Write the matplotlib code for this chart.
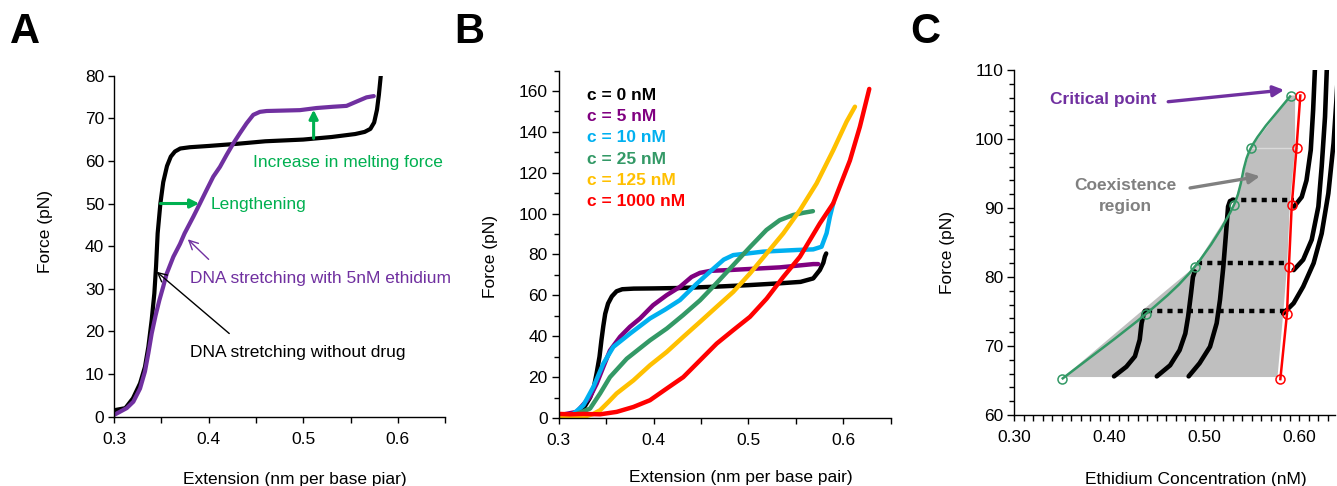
import numpy as np
import matplotlib
matplotlib.use("Agg")
import matplotlib.pyplot as plt
from matplotlib.path import Path
from matplotlib.patches import PathPatch
from matplotlib.ticker import FixedLocator, FormatStrFormatter

plt.rcParams['font.family'] = ['Liberation Sans', 'DejaVu Sans']
plt.rcParams['font.size'] = 12.5
plt.rcParams['axes.linewidth'] = 1.0

# ---------------- Panel A data: force-extension, no drug vs 5 nM ethidium
a0_x = [0.300, 0.312, 0.320, 0.3275, 0.3327, 0.3363, 0.3398, 0.3426, 0.3444, 0.3461,
        0.3490, 0.3520, 0.3560, 0.3600, 0.3644, 0.370, 0.380, 0.400, 0.430, 0.460, 0.500,
        0.530, 0.555, 0.565, 0.571, 0.575, 0.578, 0.580, 0.582]
a0_f = [1.5, 2.0, 4.3, 7.8, 11.7, 16.4, 22.7, 28.9, 35.2, 43.0,
        50.0, 55.0, 58.8, 61.0, 62.2, 62.9, 63.2, 63.5, 64.0, 64.6, 65.0,
        65.6, 66.3, 66.8, 67.5, 69.0, 72.0, 75.5, 80.0]
a5_x = [0.300, 0.3134, 0.3204, 0.3275, 0.3327, 0.3363, 0.3398, 0.3440, 0.3479, 0.3520,
        0.3556, 0.3627, 0.3697, 0.3746, 0.3838, 0.3908, 0.3979, 0.4049, 0.412, 0.419,
        0.4261, 0.4331, 0.4401, 0.4472, 0.4542, 0.4613, 0.4789, 0.4965, 0.5141, 0.5317,
        0.5458, 0.5563, 0.5669, 0.5746]
a5_f = [0.4, 2.0, 3.5, 6.6, 10.6, 14.9, 19.5, 23.8, 27.3, 30.5,
        33.5, 37.5, 40.5, 43.0, 46.9, 50.0, 53.2, 56.3, 58.6, 61.4,
        64.1, 66.5, 68.8, 70.8, 71.5, 71.7, 71.8, 71.9, 72.4, 72.7,
        72.9, 73.9, 74.9, 75.2]
a_xticks = [0.3, 0.4, 0.5, 0.6]
a_xminor = [0.35, 0.45, 0.55, 0.65]
a_yticks = [0, 10, 20, 30, 40, 50, 60, 70, 80]

# ---------------- Panel B data: force-extension at several concentrations
b_labels = ['c = 0 nM', 'c = 5 nM', 'c = 10 nM', 'c = 25 nM', 'c = 125 nM', 'c = 1000 nM']
b_colors = ['#000000', '#800080', '#00B0F0', '#339966', '#FFC000', '#FF0000']
b0_x = [0.300, 0.312, 0.320, 0.326, 0.333, 0.337, 0.340, 0.343, 0.345, 0.347,
        0.349, 0.352, 0.356, 0.361, 0.367, 0.379, 0.400, 0.4278, 0.4629, 0.500,
        0.5332, 0.555, 0.5683, 0.5753, 0.5790, 0.5806, 0.582]
b0_f = [0.8, 1.5, 3.0, 4.6, 10.0, 15.0, 22.0, 30.0, 38.0, 45.0,
        51.0, 56.0, 59.5, 62.0, 63.0, 63.3, 63.4, 63.6, 64.2, 65.0,
        65.9, 66.6, 68.3, 72.4, 76.0, 79.0, 80.5]
b5_x = [0.300, 0.319, 0.333, 0.340, 0.347, 0.354, 0.3646, 0.375, 0.3857, 0.3995,
        0.4138, 0.4279, 0.4400, 0.4489, 0.4600, 0.4805, 0.5332, 0.5683, 0.5736]
b5_f = [1.3, 3.0, 10.3, 16.8, 25.0, 33.0, 39.7, 44.6, 48.7, 55.2,
        60.1, 64.2, 69.0, 71.0, 72.0, 72.4, 73.7, 75.3, 75.3]
b10_x = [0.300, 0.3155, 0.326, 0.3365, 0.347, 0.3576, 0.3752, 0.3962, 0.4120, 0.4278,
         0.4450, 0.4629, 0.4740, 0.484, 0.5156, 0.5508, 0.5683, 0.5771, 0.5824, 0.5859,
         0.5894]
b10_f = [0.5, 2.1, 6.2, 15.2, 26.6, 34.8, 41.3, 48.7, 53.0, 57.7,
         65.5, 73.0, 77.5, 79.7, 81.4, 82.2, 82.5, 83.8, 90.4, 98.5,
         105.0]
b25_x = [0.300, 0.319, 0.333, 0.3436, 0.354, 0.3717, 0.3962, 0.414, 0.431, 0.449,
         0.466, 0.484, 0.502, 0.519, 0.533, 0.547, 0.558, 0.568]
b25_f = [0.2, 2.0, 4.6, 12.0, 20.0, 29.0, 38.0, 43.8, 50.3, 57.6,
         65.8, 74.8, 83.8, 92.0, 96.8, 99.3, 100.4, 101.2]
b125_x = [0.300, 0.326, 0.3365, 0.3436, 0.3523, 0.361, 0.3787, 0.3962, 0.4138, 0.4313,
          0.4489, 0.4665, 0.484, 0.5016, 0.5192, 0.5367, 0.5543, 0.5719, 0.5894, 0.6035,
          0.6123]
b125_f = [0.2, 0.5, 2.0, 3.8, 7.8, 12.0, 18.4, 25.8, 32.3, 39.7,
          47.0, 54.4, 61.7, 70.7, 80.5, 90.3, 101.7, 114.8, 131.0, 145.0,
          152.3]
b1000_x = [0.300, 0.312, 0.326, 0.3436, 0.3611, 0.3787, 0.3962, 0.4138, 0.4313, 0.4489,
           0.4665, 0.484, 0.5016, 0.5192, 0.5367, 0.5543, 0.5753, 0.5894, 0.607, 0.6175,
           0.6274]
b1000_f = [2.0, 1.8, 2.0, 1.8, 3.0, 5.4, 8.7, 14.4, 20.0, 28.2,
           36.4, 43.0, 49.5, 58.4, 69.0, 78.9, 95.2, 105.0, 126.0, 142.5,
           161.0]
b_xticks = [0.3, 0.4, 0.5, 0.6]
b_xminor = [0.35, 0.45, 0.55, 0.65]
b_yticks = [0, 20, 40, 60, 80, 100, 120, 140, 160]
b_yminor = [10, 30, 50, 70, 90, 110, 130, 150, 170]

# ---------------- Panel C data: phase diagram
phase_f = [65.2, 74.7, 81.5, 90.4, 98.7, 106.3]
left_x = [0.350, 0.439, 0.490, 0.531, 0.549, 0.591]
right_x = [0.580, 0.587, 0.589, 0.592, 0.597, 0.601]
region_x = [0.352, 0.455, 0.490, 0.531, 0.549, 0.591, 0.5955, 0.5955, 0.590, 0.587, 0.583, 0.577]
region_f = [65.5, 77.5, 81.5, 90.4, 98.7, 106.3, 106.3, 98.7, 90.4, 81.5, 74.7, 65.5]
tie_f = [75.0, 82.1, 91.1]
tie_x0 = [0.440, 0.492, 0.528]
tie_x1 = [0.585, 0.590, 0.594]
iso1_x = [0.405, 0.418, 0.427, 0.432, 0.434, 0.436, 0.4375, 0.441]
iso1_f = [65.6, 67.0, 68.5, 70.9, 73.3, 74.5, 75.1, 75.1]
iso2_x = [0.450, 0.464, 0.474, 0.480, 0.483, 0.486, 0.488, 0.490]
iso2_f = [65.6, 67.2, 69.4, 71.8, 74.3, 77.6, 80.0, 80.8]
iso3_x = [0.4835, 0.495, 0.506, 0.513, 0.5165, 0.520, 0.5228, 0.525, 0.527, 0.5305]
iso3_f = [65.6, 67.5, 69.9, 73.3, 76.7, 81.5, 86.3, 90.2, 91.0, 91.2]
iso4_x = [0.583, 0.594, 0.604, 0.615, 0.6235, 0.6305, 0.636, 0.639, 0.641]
iso4_f = [74.7, 76.2, 78.6, 82.0, 86.3, 92.1, 99.4, 105.6, 110.5]
iso5_x = [0.594, 0.604, 0.613, 0.620, 0.6235, 0.627, 0.629]
iso5_f = [81.0, 82.5, 85.4, 90.2, 96.0, 103.2, 110.5]
iso6_x = [0.5945, 0.6025, 0.6075, 0.612, 0.6145, 0.6165]
iso6_f = [90.2, 91.6, 94.0, 98.4, 104.2, 110.5]
c_xticks = [0.30, 0.40, 0.50, 0.60]
c_xminor = [round(0.30 + 0.01 * i, 2) for i in range(34)]
c_yticks = [60, 70, 80, 90, 100, 110]
c_yminor = list(range(60, 111, 2))

PURPLE = '#7030A0'
GREEN_TXT = '#00B050'
PHASE_GREEN = '#339966'
GRAY_TXT = '#808080'

fig = plt.figure(figsize=(13.37, 4.86), dpi=100)


def style_axes(ax):
    for side in ('top', 'right'):
        ax.spines[side].set_visible(False)
    ax.tick_params(which='both', direction='out', width=1.0, labelsize=12.5)


def smooth_path(xs, ys, sx, sy):
    """Catmull-Rom style cubic Bezier path through the given points."""
    P = np.column_stack([np.asarray(xs) * sx, np.asarray(ys) * sy])
    n = len(P)
    verts = [P[0]]
    codes = [Path.MOVETO]
    for i in range(n - 1):
        p0 = P[i - 1] if i > 0 else P[i]
        p1 = P[i]
        p2 = P[i + 1]
        p3 = P[i + 2] if i + 2 < n else P[i + 1]
        c1 = p1 + (p2 - p0) / 6.0
        c2 = p2 - (p3 - p1) / 6.0
        verts += [c1, c2, p2]
        codes += [Path.CURVE4] * 3
    V = np.array(verts)
    V[:, 0] /= sx
    V[:, 1] /= sy
    return Path(V, codes)


line_kw = dict(solid_capstyle='round', solid_joinstyle='round')

# ================= Panel A
axA = fig.add_axes([0.0853, 0.1427, 0.2476, 0.7017])
style_axes(axA)
axA.plot(a0_x, a0_f, color='black', lw=3.0, **line_kw)
axA.plot(a5_x, a5_f, color=PURPLE, lw=3.0, **line_kw)
axA.set_xlim(0.3, 0.65)
axA.set_ylim(0, 80)
axA.xaxis.set_major_locator(FixedLocator(a_xticks))
axA.xaxis.set_minor_locator(FixedLocator(a_xminor))
axA.xaxis.set_major_formatter(FormatStrFormatter('%.1f'))
axA.yaxis.set_major_locator(FixedLocator(a_yticks))
axA.tick_params(axis='x', which='both', length=4, pad=7)
axA.tick_params(axis='y', length=4, pad=3)
axA.set_xlabel('Extension (nm per base piar)')
axA.xaxis.set_label_coords(0.547, -0.162)
axA.set_ylabel('Force (pN)')
axA.yaxis.label.set_va('center')
axA.yaxis.set_label_coords(-0.2085, 0.5425)

# melting-force increase
axA.annotate('', xy=(0.511, 72.0), xytext=(0.511, 65.3),
             arrowprops=dict(arrowstyle='-|>', color=GREEN_TXT, lw=2.2,
                             mutation_scale=13, shrinkA=0, shrinkB=0))
axA.text(0.447, 58.6, 'Increase in melting force', color=GREEN_TXT,
         ha='left', va='baseline', fontsize=12.5, clip_on=False)
# lengthening
axA.annotate('', xy=(0.390, 50.0), xytext=(0.349, 50.0),
             arrowprops=dict(arrowstyle='-|>', color=GREEN_TXT, lw=2.2,
                             mutation_scale=13, shrinkA=0, shrinkB=0))
axA.text(0.402, 48.6, 'Lengthening', color=GREEN_TXT,
         ha='left', va='baseline', fontsize=12.5)
# curve callouts
axA.annotate('', xy=(0.378, 41.6), xytext=(0.400, 36.9),
             arrowprops=dict(arrowstyle='->', color=PURPLE, lw=1.0,
                             mutation_scale=16, shrinkA=0, shrinkB=0))
axA.text(0.380, 31.4, 'DNA stretching with 5nM ethidium', color=PURPLE,
         ha='left', va='baseline', fontsize=12.5, clip_on=False)
axA.annotate('', xy=(0.345, 34.0), xytext=(0.4218, 19.5),
             arrowprops=dict(arrowstyle='->', color='black', lw=1.0,
                             mutation_scale=16, shrinkA=0, shrinkB=0))
axA.text(0.380, 13.9, 'DNA stretching without drug', color='black',
         ha='left', va='baseline', fontsize=12.5)

# ================= Panel B
axB = fig.add_axes([0.4179, 0.1399, 0.2483, 0.7150])
style_axes(axB)
b_series = [(b0_x, b0_f), (b5_x, b5_f), (b10_x, b10_f),
            (b25_x, b25_f), (b125_x, b125_f), (b1000_x, b1000_f)]
for (xs, fs), col in zip(b_series, b_colors):
    axB.plot(xs, fs, color=col, lw=3.2, **line_kw)
axB.set_xlim(0.3, 0.65)
axB.set_ylim(0, 170)
axB.xaxis.set_major_locator(FixedLocator(b_xticks))
axB.xaxis.set_minor_locator(FixedLocator(b_xminor))
axB.xaxis.set_major_formatter(FormatStrFormatter('%.1f'))
axB.yaxis.set_major_locator(FixedLocator(b_yticks))
axB.yaxis.set_minor_locator(FixedLocator(b_yminor))
axB.tick_params(axis='x', which='both', length=4, pad=7)
axB.tick_params(axis='y', which='major', length=5, pad=3)
axB.tick_params(axis='y', which='minor', length=3.5)
axB.set_xlabel('Extension (nm per base pair)')
axB.xaxis.set_label_coords(0.5476, -0.150)
axB.set_ylabel('Force (pN)')
axB.yaxis.label.set_va('center')
axB.yaxis.set_label_coords(-0.207, 0.464)
for i, (lab, col) in enumerate(zip(b_labels, b_colors)):
    axB.text(0.0843, 0.915 - 0.061 * i, lab, color=col, fontweight='bold',
             ha='left', va='baseline', transform=axB.transAxes, fontsize=12.5)

# ================= Panel C
axC = fig.add_axes([0.7586, 0.1461, 0.2399, 0.7099])
style_axes(axC)
axC.fill(region_x, region_f, color='#BFBFBF', lw=0, zorder=1)
axC.plot([left_x[4], right_x[4]], [phase_f[4], phase_f[4]], color='#DADADA', lw=1.0, zorder=1.5)
for xs, fs in [(iso1_x, iso1_f), (iso2_x, iso2_f), (iso3_x, iso3_f),
               (iso4_x, iso4_f), (iso5_x, iso5_f), (iso6_x, iso6_f)]:
    axC.plot(xs, fs, color='black', lw=3.3, zorder=3, **line_kw)
axC.hlines(tie_f, tie_x0, tie_x1, colors='black', lw=3.2,
           linestyles=(0, (1.15, 1.15)), zorder=3)
axC.add_patch(PathPatch(smooth_path(left_x, phase_f, 950.0, 6.9), facecolor='none',
                        edgecolor=PHASE_GREEN, lw=1.8, zorder=4))
axC.plot(right_x, phase_f, color='#FF0000', lw=1.8, zorder=4)
axC.plot(left_x, phase_f, ls='none', marker='o', ms=6.5, mfc='none',
         mec=PHASE_GREEN, mew=1.1, zorder=5)
axC.plot(right_x, phase_f, ls='none', marker='o', ms=6.5, mfc='none',
         mec='#FF0000', mew=1.1, zorder=5)
axC.set_xlim(0.30, 0.6375)
axC.set_ylim(60, 110)
axC.xaxis.set_major_locator(FixedLocator(c_xticks))
axC.xaxis.set_minor_locator(FixedLocator(c_xminor))
axC.xaxis.set_major_formatter(FormatStrFormatter('%.2f'))
axC.yaxis.set_major_locator(FixedLocator(c_yticks))
axC.yaxis.set_minor_locator(FixedLocator(c_yminor))
axC.tick_params(axis='x', which='both', length=4, pad=7)
axC.tick_params(axis='y', which='major', length=5, pad=3)
axC.tick_params(axis='y', which='minor', length=3.5)
axC.set_xlabel('Ethidium Concentration (nM)')
axC.xaxis.set_label_coords(0.565, -0.165)
axC.set_ylabel('Force (pN)')
axC.yaxis.label.set_va('center')
axC.yaxis.set_label_coords(-0.2067, 0.4696)

axC.text(0.3376, 105.07, 'Critical point', color=PURPLE, fontweight='bold',
         ha='left', va='baseline', fontsize=12.5)
axC.annotate('', xy=(0.584, 107.1), xytext=(0.462, 105.4),
             arrowprops=dict(arrowstyle='-|>', color=PURPLE, lw=2.4,
                             mutation_scale=16, shrinkA=0, shrinkB=0), zorder=6)
axC.text(0.4167, 92.65, 'Coexistence', color=GRAY_TXT, fontweight='bold',
         ha='center', va='baseline', fontsize=12.5)
axC.text(0.4167, 89.5, 'region', color=GRAY_TXT, fontweight='bold',
         ha='center', va='baseline', fontsize=12.5)
axC.annotate('', xy=(0.5585, 94.6), xytext=(0.485, 92.9),
             arrowprops=dict(arrowstyle='-|>', color=GRAY_TXT, lw=2.4,
                             mutation_scale=16, shrinkA=0, shrinkB=0), zorder=6)

# panel letters
for letter, xpos in [('A', 0.0075), ('B', 0.3400), ('C', 0.6810)]:
    fig.text(xpos, 0.9115, letter, fontsize=30, fontweight='bold',
             ha='left', va='baseline')

fig.savefig('out.png', dpi=100)
